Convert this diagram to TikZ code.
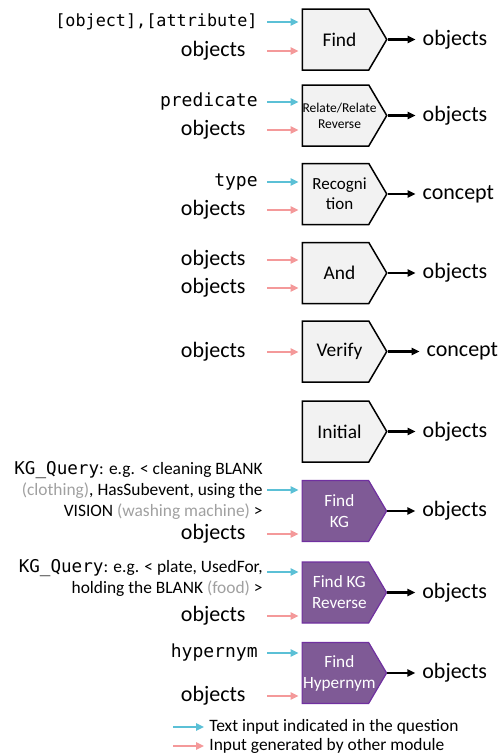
\documentclass[tikz,border=0pt]{standalone}
\usepackage{fontspec}
\setmainfont{Carlito}
\setmonofont{DejaVu Sans Mono}
\usepackage{tikz}
\usetikzlibrary{shapes.symbols, arrows.meta, positioning}
\definecolor{BoxGray}{HTML}{F2F2F2}
\definecolor{KGPurple}{HTML}{7F5A96}
\definecolor{KGBorder}{HTML}{7030A0}
\definecolor{QuesBlue}{HTML}{5BC0D6}
\definecolor{ModPink}{HTML}{F4999A}
\definecolor{NoteGray}{HTML}{A0A0A0}
\newcommand{\pad}{\hspace*{4pt}}

\begin{document}
\begin{tikzpicture}[x=0.5pt, y=-0.5pt,
    module/.style={signal, signal to=east, signal pointer angle=119, anchor=west,
                   draw=black, line width=0.75pt, fill=BoxGray, minimum width=42.25pt,
                   minimum height=30.5pt, inner xsep=-5pt, inner ysep=0pt, align=center,
                   font=\fontsize{9.7}{11}\selectfont},
    kgmodule/.style={module, fill=KGPurple, draw=KGBorder, line width=0.6pt, text=white,
                     font=\fontsize{8.6}{10.5}\selectfont},
    qin/.style={anchor=east, inner xsep=4.5pt, font=\ttfamily\fontsize{9}{10}\selectfont},
    kgq/.style={anchor=east, inner xsep=2pt, align=right, font=\fontsize{8.7}{10.5}\selectfont},
    modin/.style={anchor=east, inner xsep=10.5pt, font=\fontsize{11}{12}\selectfont},
    outlbl/.style={right=14pt of #1, font=\fontsize{11}{12}\selectfont},
    legtxt/.style={anchor=west, inner xsep=1pt, font=\fontsize{8.7}{10}\selectfont},
    qarr/.style={QuesBlue, line width=1pt, -{Triangle[length=4pt, width=3.6pt]}, shorten >=1.5pt},
    marr/.style={ModPink, line width=1pt, -{Triangle[length=4pt, width=3.6pt]}, shorten >=1.5pt},
    outarr/.style={black, line width=1.2pt, -{Triangle[length=4pt, width=3.6pt]}}
]
    \useasboundingbox (0,0) rectangle (502,756);

    % Find
    \node[module] (find) at (301.5,39.5) {\pad Find};
    \node[qin, font=\ttfamily\fontsize{8.4}{10}\selectfont] (findq) at (267,22) {[object],[attribute]};
    \node[modin] (findm) at (267,51) {objects};
    \node[outlbl=find] (findo) {objects};

    % Relate
    \node[module, font=\fontsize{6.75}{8}\selectfont] (rel) at (301.5,115.5) {\pad Relate/Relate\\\pad Reverse};
    \node[qin] (relq) at (267,102) {predicate};
    \node[modin] (relm) at (267,130) {objects};
    \node[outlbl=rel] (relo) {objects};

    % Recognition
    \node[module, font=\fontsize{8.5}{10}\selectfont] (recog) at (301.5,194) {\pad Recogni\\\pad tion};
    \node[qin] (recogq) at (267,182) {type};
    \node[modin] (recogm) at (267,210) {objects};
    \node[outlbl=recog] (recogo) {concept};

    % And
    \node[module] (and) at (301.5,273) {\pad And};
    \node[modin] (andm) at (267,260) {objects};
    \node[modin] (andn) at (267,288) {objects};
    \node[outlbl=and] (ando) {objects};

    % Verify
    \node[module] (verify) at (301.5,351.5) {\pad Verify};
    \node[modin] (verifym) at (267,352) {objects};
    \node[outlbl=verify, right=16pt of verify] (verifyo) {concept};

    % Initial
    \node[module] (init) at (301.5,431.5) {\pad Initial};
    \node[outlbl=init] (inito) {objects};

    % Find KG
    \node[kgmodule] (fkg) at (301.5,511) {\pad Find\\\pad KG};
    \node[kgq] (fkgq) at (267,490) {{\ttfamily\fontsize{8.8}{10.5}\selectfont KG\_Query}: e.g. < cleaning BLANK\\
        \textcolor{NoteGray}{(clothing)}, HasSubevent, using the\\
        VISION \textcolor{NoteGray}{(washing machine)} >};
    \node[modin] (fkgm) at (267,534) {objects};
    \node[outlbl=fkg] (fkgo) {objects};

    % Find KG Reverse
    \node[kgmodule] (fkgr) at (301.5,592.5) {\pad Find KG\\\pad Reverse};
    \node[kgq] (fkgrq) at (267,577.5) {{\ttfamily\fontsize{8.8}{10.5}\selectfont KG\_Query}: e.g. < plate, UsedFor,\\
        holding the BLANK \textcolor{NoteGray}{(food)} >};
    \node[modin] (fkgrm) at (267,616) {objects};
    \node[outlbl=fkgr] (fkgro) {objects};

    % Find Hypernym
    \node[kgmodule] (hyp) at (301.5,673) {\pad Find\\\pad Hypernym};
    \node[qin] (hypq) at (267,653) {hypernym};
    \node[modin] (hypm) at (267,696) {objects};
    \node[outlbl=hyp] (hypo) {objects};

    % Legend
    \coordinate (legq0) at (173,727);
    \coordinate (legm0) at (173,746);
    \node[legtxt] (legq) at (207,727) {Text input indicated in the question};
    \node[legtxt] (legm) at (207,746) {Input generated by other module};

    % Input arrows
    \draw[qarr] (findq.east) -- (findq.east -| find.west);
    \draw[marr] (findm.east) -- (findm.east -| find.west);
    \draw[qarr] (relq.east) -- (relq.east -| rel.west);
    \draw[marr] (relm.east) -- (relm.east -| rel.west);
    \draw[qarr] (recogq.east) -- (recogq.east -| recog.west);
    \draw[marr] (recogm.east) -- (recogm.east -| recog.west);
    \draw[marr] (andm.east) -- (andm.east -| and.west);
    \draw[marr] (andn.east) -- (andn.east -| and.west);
    \draw[marr] (verifym.east) -- (verifym.east -| verify.west);
    \draw[qarr] (fkgq.east) -- (fkgq.east -| fkg.west);
    \draw[marr] (fkgm.east) -- (fkgm.east -| fkg.west);
    \draw[qarr] ([yshift=2.75pt]fkgrq.east) -- ([yshift=2.75pt]fkgrq.east -| fkgr.west);
    \draw[marr] (fkgrm.east) -- (fkgrm.east -| fkgr.west);
    \draw[qarr] (hypq.east) -- (hypq.east -| hyp.west);
    \draw[marr] (hypm.east) -- (hypm.east -| hyp.west);
    \draw[qarr] (legq0) -- (legq);
    \draw[marr] (legm0) -- (legm);

    % Output arrows
    \foreach \m in {find, rel, recog, and, verify, init, fkg, fkgr, hyp}
        \draw[outarr] (\m.east) -- (\m o.west);
\end{tikzpicture}
\end{document}
